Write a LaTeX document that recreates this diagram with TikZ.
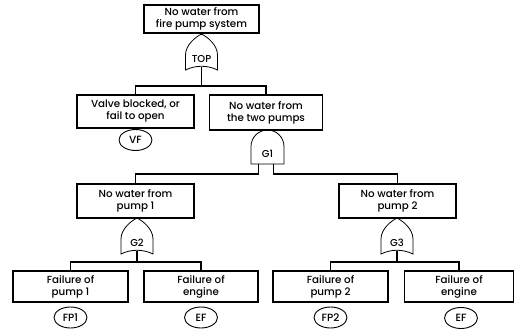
\documentclass[tikz,border=0pt]{standalone}
\usepackage{fontspec}
\setmainfont{Poppins}[UprightFont={Poppins Medium}]
\usetikzlibrary{shapes.geometric}
\begin{document}
\begin{tikzpicture}[x=1pt,y=-1pt,line width=1.1pt,
  event/.style={draw,rectangle,minimum width=117pt,minimum height=33pt,
    inner sep=0pt,align=center,font=\fontsize{10.3}{12}\selectfont},
  basic/.style={draw,ellipse,minimum width=33pt,minimum height=21pt,
    inner sep=0pt,line width=0.9pt,font=\fontsize{10.5}{11}\selectfont},
  gatelabel/.style={inner sep=0pt,font=\fontsize{10}{10}\selectfont},
  orgate/.pic={
    \draw[line width=0.8pt] (0,0) .. controls (6,3) and (16,11) .. (16,21)
      -- (16,36) .. controls (6,31) and (-6,31) .. (-16,36)
      -- (-16,21) .. controls (-16,11) and (-6,3) .. cycle;
    \node[gatelabel] (-label) at (0,25) {#1};
    \coordinate (-in) at (0,0);
    \coordinate (-out) at (0,33);
  },
  andgate/.pic={
    \draw[line width=0.8pt] (-16.5,34) -- (-16.5,16.5)
      .. controls (-16.5,7.4) and (-9.1,0) .. (0,0)
      .. controls (9.1,0) and (16.5,7.4) .. (16.5,16.5)
      -- (16.5,34) -- cycle;
    \node[gatelabel] (-label) at (0,24) {#1};
    \coordinate (-in) at (0,0);
    \coordinate (-outl) at (-9,34);
    \coordinate (-outr) at (6,34);
  }]
\useasboundingbox[fill=white] (0,0) rectangle (515,335);

% events
\node[event,minimum width=115pt,minimum height=28pt] (top) at (201.5,19) {No water from\\fire pump system};
\node[event] (valve) at (135.5,111.5) {Valve blocked, or\\fail to open};
\node[event,minimum width=113pt,minimum height=35pt] (pumps) at (266,112.5) {No water from\\the two pumps};
\node[event,minimum height=34pt] (p1) at (135.5,201) {No water from\\pump 1};
\node[event,minimum height=34pt] (p2) at (397.5,201) {No water from\\pump 2};
\node[event,minimum width=115pt,minimum height=31pt] (fp1) at (70.5,286.5) {Failure of\\pump 1};
\node[event,minimum width=114pt,minimum height=31pt] (ef1) at (201,286.5) {Failure of\\engine};
\node[event,minimum width=115pt,minimum height=31pt] (fp2) at (330.5,286.5) {Failure of\\pump 2};
\node[event,minimum width=109pt,minimum height=31pt] (ef2) at (459,286.5) {Failure of\\engine};

% basic events
\node[basic] (vf) at (135.5,140) {VF};
\node[basic] (bfp1) at (70.5,317.5) {FP1};
\node[basic] (bef1) at (201,317.5) {EF};
\node[basic] (bfp2) at (330.5,317.5) {FP2};
\node[basic] (bef2) at (461,318) {EF};

% gates
\pic (gtop) at (201.5,34) {orgate=TOP};
\pic (g1) at (267.5,130) {andgate=G1};
\pic (g2) at (137,218) {orgate=G2};
\pic (g3) at (397,218) {orgate=G3};

% junction points
\coordinate (j0) at (201.5,86);
\coordinate (j2) at (137,262);
\coordinate (j3) at (397,262);

% connectors
\draw (top.south) -- (gtop-in);
\draw (gtop-out) -- (j0);
\draw (j0) -| (valve.north);
\draw (j0) -| (pumps.north);
\draw (g1-outl) -- ++(0,10) -| (p1.north);
\draw (g1-outr) -- ++(0,10) -| (p2.north);
\draw (g2-out) -- (j2);
\draw (j2) -| (fp1.north);
\draw (j2) -| (ef1.north);
\draw (g3-out) -- (j3);
\draw (j3) -| (fp2.north);
\draw (j3) -| (ef2.north);
\end{tikzpicture}
\end{document}
